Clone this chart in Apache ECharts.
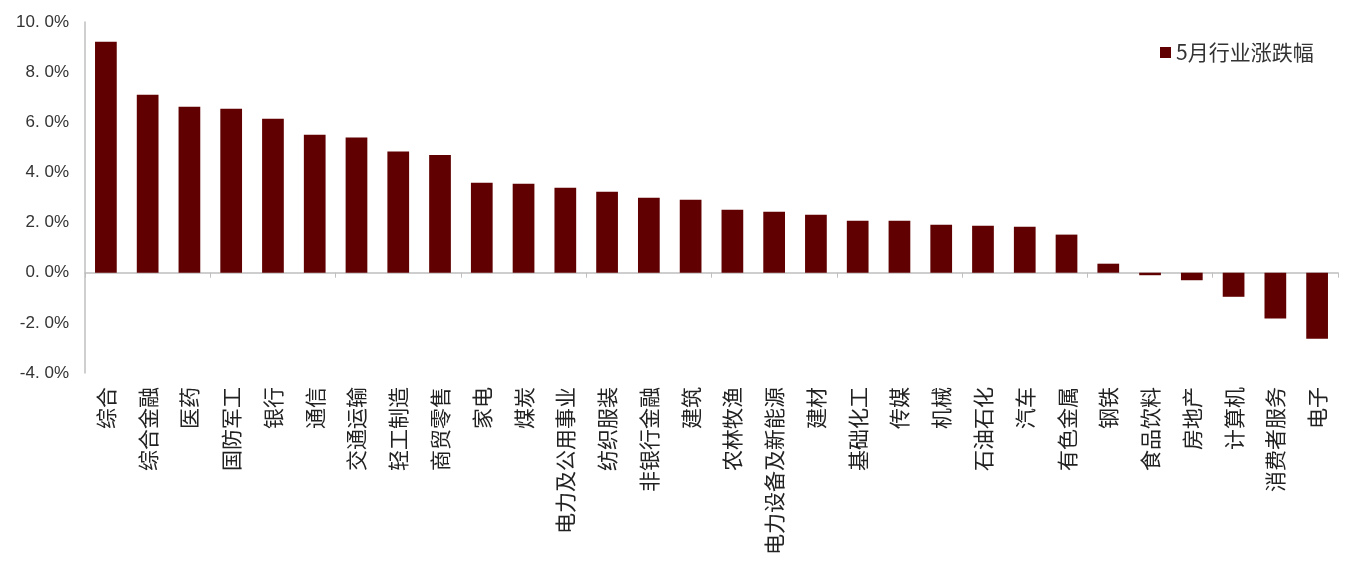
<!DOCTYPE html>
<html>
<head>
<meta charset="utf-8">
<script src="https://cdn.jsdelivr.net/npm/echarts@6/dist/echarts.min.js"></script>
<style>
html,body{margin:0;padding:0;background:#fff;}
#chart{width:1347px;height:570px;}
</style>
</head>
<body>
<div id="chart"></div>
<script>
const categories = ['综合','综合金融','医药','国防军工','银行','通信','交通运输','轻工制造','商贸零售','家电','煤炭','电力及公用事业','纺织服装','非银行金融','建筑','农林牧渔','电力设备及新能源','建材','基础化工','传媒','机械','石油石化','汽车','有色金属','钢铁','食品饮料','房地产','计算机','消费者服务','电子'];
const values = [9.21,7.10,6.62,6.54,6.14,5.50,5.39,4.83,4.70,3.59,3.55,3.39,3.23,2.99,2.91,2.51,2.43,2.31,2.07,2.07,1.91,1.87,1.83,1.52,0.36,-0.10,-0.30,-0.96,-1.83,-2.63];
const seriesName = '5月行业涨跌幅';

const chart = echarts.init(document.getElementById('chart'));
chart.setOption({
  animation: false,
  backgroundColor: '#fff',
  legend: {
    data: [seriesName],
    icon: 'rect',
    left: 1155, top: 37,
    itemWidth: 11, itemHeight: 11, itemGap: 5,
    textStyle: {fontSize: 21, color: '#333', fontFamily: 'Noto Sans CJK SC'}
  },
  grid: {left: 85, right: 9, top: 22, bottom: 197},
  xAxis: [{
    type: 'category', data: categories,
    axisLine: {onZero: true, lineStyle: {color: '#bfbfbf', width: 1.5}},
    axisTick: {show: true, length: 5, lineStyle: {color: '#bfbfbf'}},
    axisLabel: {show: false}
  }, {
    type: 'category', data: categories, position: 'bottom',
    axisLine: {show: false, onZero: false}, axisTick: {show: false},
    axisLabel: {rotate: 90, interval: 0, margin: 14, fontSize: 21, color: '#222', fontFamily: 'Noto Sans CJK SC'}
  }],
  yAxis: {
    type: 'value', min: -4, max: 10, interval: 2,
    axisLine: {show: true, lineStyle: {color: '#bfbfbf', width: 1.5}},
    axisTick: {show: false},
    splitLine: {show: false},
    axisLabel: {margin: 16, fontSize: 17, color: '#333', fontFamily: 'Liberation Sans',
      formatter: v => v.toFixed(1).replace('.', '. ') + '%'}
  },
  series: [{
    name: seriesName, type: 'bar', data: values, xAxisIndex: 0,
    barWidth: '52%',
    itemStyle: {color: '#600000'}
  }]
});
</script>
</body>
</html>
